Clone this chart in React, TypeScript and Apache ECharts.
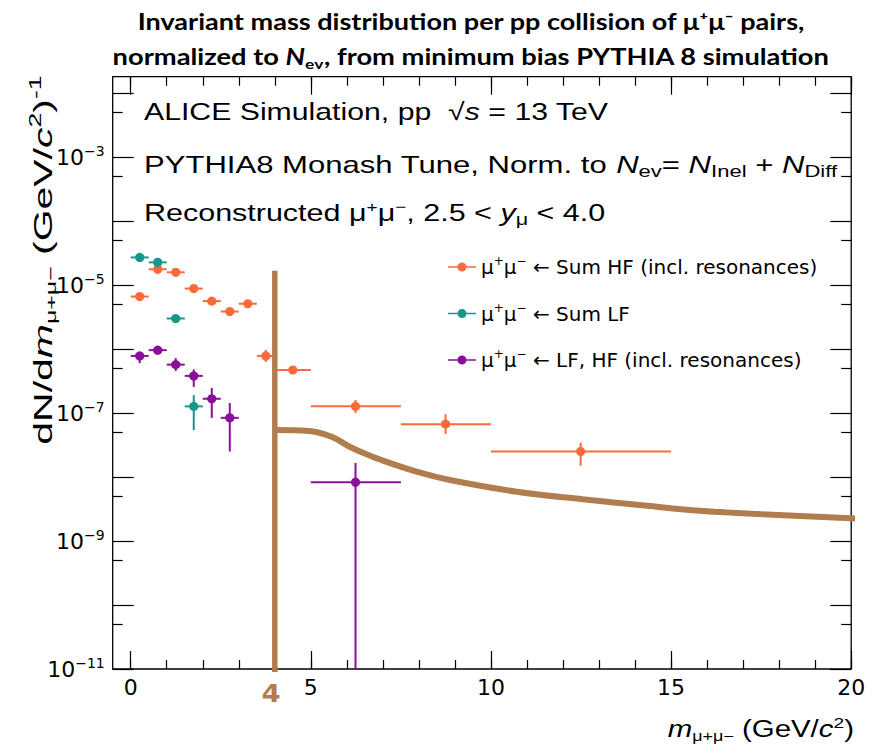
import React, { useEffect, useRef } from 'react';
import * as echarts from 'echarts';

// ---------- data ----------
const hfX = [0.25, 0.75, 1.25, 1.75, 2.25, 2.75, 3.25, 3.75, 4.5, 6.24, 8.74, 12.49];
const hfXLow = [0, 0.5, 1, 1.5, 2, 2.5, 3, 3.5, 4, 5, 7.5, 10];
const hfXHigh = [0.5, 1, 1.5, 2, 2.5, 3, 3.5, 4, 5, 7.5, 10, 15];
const hfY = [6.6e-6, 1.76e-5, 1.58e-5, 8.8e-6, 5.6e-6, 3.85e-6, 5.1e-6, 7.8e-7, 4.7e-7, 1.27e-7, 6.7e-8, 2.5e-8];
const hfYLow = [6.3e-6, 1.7e-5, 1.52e-5, 8.4e-6, 5.3e-6, 3.6e-6, 4.8e-6, 6.3e-7, 4.1e-7, 1.0e-7, 4.7e-8, 1.5e-8];
const hfYHigh = [6.9e-6, 1.82e-5, 1.64e-5, 9.2e-6, 5.9e-6, 4.1e-6, 5.4e-6, 9.7e-7, 5.4e-7, 1.6e-7, 9.6e-8, 3.45e-8];

const lfX = [0.25, 0.75, 1.25, 1.75];
const lfXLow = [0, 0.5, 1, 1.5];
const lfXHigh = [0.5, 1, 1.5, 2];
const lfY = [2.7e-5, 2.26e-5, 3.0e-6, 1.27e-7];
const lfYLow = [2.6e-5, 2.17e-5, 2.8e-6, 5.4e-8];
const lfYHigh = [2.8e-5, 2.35e-5, 3.2e-6, 1.9e-7];

const allX = [0.25, 0.75, 1.25, 1.75, 2.25, 2.75, 6.24];
const allXLow = [0, 0.5, 1, 1.5, 2, 2.5, 5];
const allXHigh = [0.5, 1, 1.5, 2, 2.5, 3, 7.5];
const allY = [7.8e-7, 9.6e-7, 5.7e-7, 3.8e-7, 1.67e-7, 8.4e-8, 8.3e-9];
const allYLow = [6.0e-7, 9.0e-7, 4.55e-7, 2.56e-7, 8.4e-8, 2.5e-8, 1e-12];
const allYHigh = [8.9e-7, 1.03e-6, 7.2e-7, 4.8e-7, 2.46e-7, 1.43e-7, 1.66e-8];

// hand-drawn annotation (threshold at 4 GeV and curve)
const cutX = [4, 4];
const cutY = [1.67e-5, 9e-12];
const curveX = [4.0, 4.69, 5.15, 5.61, 6.08, 6.55, 7.0, 7.94, 8.86, 10.72, 12.55, 14.41, 15.79, 17.46, 20.0, 20.56];
const curveY = [5.42e-8, 5.35e-8, 5.05e-8, 4.17e-8, 2.97e-8, 2.26e-8, 1.8e-8, 1.21e-8, 8.97e-9, 5.89e-9, 4.49e-9, 3.52e-9, 2.97e-9, 2.64e-9, 2.26e-9, 2.15e-9];

// axis ticks / labels
const xMajor = [0, 5, 10, 15, 20];
const xMinor = [0, 1, 2, 3, 4, 5, 6, 7, 8, 9, 10, 11, 12, 13, 14, 15, 16, 17, 18, 19, 20];
const yLabels = [1e-11, 1e-9, 1e-7, 1e-5, 1e-3];
const yDecades = [1e-11, 1e-10, 1e-9, 1e-8, 1e-7, 1e-6, 1e-5, 1e-4, 1e-3, 1e-2];
const yHalves = [5e-11, 5e-10, 5e-9, 5e-8, 5e-7, 5e-6, 5e-5, 5e-4, 5e-3];

const legendNames = ['hf', 'lf', 'all'];
const legendTexts = ['Sum HF (incl. resonances)', 'Sum LF', 'LF, HF (incl. resonances)'];

const ORANGE = '#FA6A3A';
const TEAL = '#17978C';
const PURPLE = '#8A0E9A';
const BROWN = '#B27D4E';
const FONT = 'Liberation Sans';
const WIDE = 'DejaVu Sans';

const zip = (x: number[], y: number[], xl: number[], xh: number[], yl: number[], yh: number[]) =>
  x.map((v, i) => [v, y[i], xl[i], xh[i], yl[i], yh[i]]);

const renderErr = (params: any, api: any) => {
  const cs = params.coordSys;
  const p = api.coord([api.value(0), api.value(1)]);
  const xl = api.coord([api.value(2), api.value(1)])[0];
  const xh = api.coord([api.value(3), api.value(1)])[0];
  const yl = Math.min(api.coord([api.value(0), api.value(4)])[1], cs.y + cs.height);
  const yh = api.coord([api.value(0), api.value(5)])[1];
  const color = api.visual('color');
  return {
    type: 'group',
    children: [
      { type: 'line', shape: { x1: xl, y1: p[1], x2: xh, y2: p[1] }, style: { stroke: color, lineWidth: 2 } },
      { type: 'line', shape: { x1: p[0], y1: yl, x2: p[0], y2: yh }, style: { stroke: color, lineWidth: 2 } },
      { type: 'circle', shape: { cx: p[0], cy: p[1], r: 4.6 }, style: { fill: color } },
    ],
  };
};

const legendRich = {
  t: { fontFamily: WIDE, fontSize: 20, color: '#000', lineHeight: 24 },
  s: { fontFamily: WIDE, fontSize: 12, color: '#000', lineHeight: 13, verticalAlign: 'top' },
};

const annRich = {
  t: { fontFamily: FONT, fontSize: 24, fill: '#000', lineHeight: 28 },
  i: { fontFamily: FONT, fontStyle: 'italic', fontSize: 24, fill: '#000', lineHeight: 28 },
  s: { fontFamily: FONT, fontSize: 15, fill: '#000', lineHeight: 14, verticalAlign: 'top' },
  sub: { fontFamily: FONT, fontSize: 17, fill: '#000', lineHeight: 11, verticalAlign: 'bottom' },
};

export default function App() {
  const ref = useRef<HTMLDivElement>(null);
  useEffect(() => {
    if (!ref.current) return;
    const chart = echarts.init(ref.current, undefined, { renderer: 'svg' });
    const xmin = -0.5, xmax = 20;
    const ymin = 1e-11, ymax = Math.pow(10, -1.745);
    const tickLine = { color: '#000', width: 1.2 };
    const xBase = (pos: string, ticks: number[], len: number, labels: boolean) => ({
      type: 'value', min: xmin, max: xmax, position: pos,
      axisLine: { show: false, onZero: false }, splitLine: { show: false },
      axisTick: { show: true, inside: true, length: len, customValues: ticks, lineStyle: tickLine },
      axisLabel: labels
        ? { show: true, customValues: xMajor, fontSize: 22, color: '#000', fontFamily: WIDE, margin: 7 }
        : { show: false },
    });
    const yBase = (pos: string, ticks: number[], len: number, labels: boolean) => ({
      type: 'log', logBase: 10, min: ymin, max: ymax, position: pos,
      axisLine: { show: false, onZero: false }, splitLine: { show: false },
      axisTick: { show: true, inside: true, length: len, customValues: ticks, lineStyle: tickLine },
      axisLabel: labels
        ? {
            show: true, customValues: yLabels, margin: 8,
            formatter: (v: number) => {
              const e = Math.round(Math.log10(v));
              return `{b|10}{s|${e < 0 ? '−' : ''}${Math.abs(e)}}`;
            },
            rich: {
              b: { fontFamily: WIDE, fontSize: 22, color: '#000', lineHeight: 26 },
              s: { fontFamily: WIDE, fontSize: 14, color: '#000', lineHeight: 14, verticalAlign: 'top' },
            },
          }
        : { show: false },
    });

    const option: any = {
      animation: false,
      backgroundColor: '#fff',
      grid: { left: 112.7, right: 20.8, top: 76.7, bottom: 85, show: true, borderColor: '#000', borderWidth: 1.3, backgroundColor: 'transparent' },
      xAxis: [
        xBase('bottom', xMajor, 18, true),
        xBase('bottom', xMinor, 9, false),
        xBase('top', xMajor, 18, false),
        xBase('top', xMinor, 9, false),
      ],
      yAxis: [
        yBase('left', yDecades, 21, true),
        yBase('left', yHalves, 10, false),
        yBase('right', yDecades, 21, false),
        yBase('right', yHalves, 10, false),
      ],
      legend: {
        orient: 'vertical', left: 443, top: 250, itemGap: 24.5, itemWidth: 28, itemHeight: 10,
        icon: 'path://M0,4.2H28V5.8H0Z M14,0.5A4.5,4.5 0 1 1 14,9.5A4.5,4.5 0 1 1 14,0.5Z',
        data: legendNames,
        formatter: (name: string) => `{t|μ}{s|+}{t|μ}{s|−}{t| ← ${legendTexts[legendNames.indexOf(name)]}}`,
        textStyle: { fontFamily: WIDE, fontSize: 20, color: '#000', rich: legendRich },
      },
      series: [
        {
          name: 'hf', type: 'custom', renderItem: renderErr, clip: true,
          itemStyle: { color: ORANGE }, encode: { x: 0, y: 1 },
          data: zip(hfX, hfY, hfXLow, hfXHigh, hfYLow, hfYHigh), z: 3,
        },
        {
          name: 'lf', type: 'custom', renderItem: renderErr, clip: true,
          itemStyle: { color: TEAL }, encode: { x: 0, y: 1 },
          data: zip(lfX, lfY, lfXLow, lfXHigh, lfYLow, lfYHigh), z: 3,
        },
        {
          name: 'all', type: 'custom', renderItem: renderErr, clip: true,
          itemStyle: { color: PURPLE }, encode: { x: 0, y: 1 },
          data: zip(allX, allY, allXLow, allXHigh, allYLow, allYHigh), z: 3,
        },
        {
          name: 'cut', type: 'line', clip: false, showSymbol: false, symbol: 'none',
          lineStyle: { color: BROWN, width: 5.5, cap: 'butt' }, itemStyle: { color: BROWN },
          data: cutX.map((v, i) => [v, cutY[i]]), z: 5,
        },
        {
          name: 'curve', type: 'line', clip: false, showSymbol: false, symbol: 'none', smooth: 0.4,
          lineStyle: { color: BROWN, width: 6 }, itemStyle: { color: BROWN },
          data: curveX.map((v, i) => [v, curveY[i]]), z: 5,
        },
      ],
      graphic: [
        {
          type: 'text', x: 471, y: 22, scaleX: 1.23,
          style: { text: 'Invariant mass distribution per pp collision of μ⁺μ⁻ pairs,', align: 'center', verticalAlign: 'middle', fontFamily: 'Lato', fontWeight: 'bold', fontSize: 22, fill: '#000' },
        },
        {
          type: 'text', x: 471, y: 57, scaleX: 1.24,
          style: {
            text: '{t|normalized to }{i|N}{sub|ev}{t|, from minimum bias PYTHIA 8 simulation}',
            align: 'center', verticalAlign: 'middle',
            rich: {
              t: { fontFamily: 'Lato', fontWeight: 'bold', fontSize: 22, fill: '#000', lineHeight: 26 },
              i: { fontFamily: 'Lato', fontWeight: 'bold', fontStyle: 'italic', fontSize: 22, fill: '#000', lineHeight: 26 },
              sub: { fontFamily: 'Lato', fontWeight: 'bold', fontSize: 14, fill: '#000', lineHeight: 12, verticalAlign: 'bottom' },
            },
          },
        },
        {
          type: 'text', x: 144, y: 112, scaleX: 1.26,
          style: { text: '{t|ALICE Simulation, pp  √}{i|s}{t| = 13 TeV}', align: 'left', verticalAlign: 'middle', rich: annRich },
        },
        {
          type: 'text', x: 144, y: 165, scaleX: 1.295,
          style: {
            text: '{t|PYTHIA8 Monash Tune, Norm. to }{i|N}{sub|ev}{t|= }{i|N}{sub|Inel}{t| + }{i|N}{sub|Diff}',
            align: 'left', verticalAlign: 'middle', rich: annRich,
          },
        },
        {
          type: 'text', x: 144, y: 213, scaleX: 1.27,
          style: {
            text: '{t|Reconstructed μ}{s|+}{t|μ}{s|−}{t|, 2.5 < }{i|y}{sub|μ}{t| < 4.0}',
            align: 'left', verticalAlign: 'middle', rich: annRich,
          },
        },
        {
          type: 'text', x: 271, y: 693, scaleX: 1.1,
          style: { text: '4', align: 'center', verticalAlign: 'middle', fontFamily: WIDE, fontWeight: 'bold', fontSize: 25, fill: BROWN },
        },
        {
          type: 'group', x: 43, y: 260, scaleX: 1.1,
          children: [
            {
              type: 'text', rotation: Math.PI / 2, scaleX: 1.78,
              style: {
                text: '{t|dN/d}{i|m}{sub|μ+μ−}{t| (GeV/}{i|c}{s|2}{t|)}{s|-1}',
                align: 'center', verticalAlign: 'middle',
                rich: {
                  t: { fontFamily: FONT, fontSize: 23, fill: '#000', lineHeight: 28 },
                  i: { fontFamily: FONT, fontStyle: 'italic', fontSize: 23, fill: '#000', lineHeight: 28 },
                  s: { fontFamily: FONT, fontSize: 15, fill: '#000', lineHeight: 14, verticalAlign: 'top' },
                  sub: { fontFamily: FONT, fontSize: 14, fill: '#000', lineHeight: 10, verticalAlign: 'bottom' },
                },
              },
            },
          ],
        },
        {
          type: 'text', x: 854, y: 729, scaleX: 1.28,
          style: {
            text: '{i|m}{sub|μ+μ−}{t| (GeV/}{i|c}{s|2}{t|)}',
            align: 'right', verticalAlign: 'middle',
            rich: {
              t: { fontFamily: FONT, fontSize: 23, fill: '#000', lineHeight: 28 },
              i: { fontFamily: FONT, fontStyle: 'italic', fontSize: 23, fill: '#000', lineHeight: 28 },
              s: { fontFamily: FONT, fontSize: 15, fill: '#000', lineHeight: 14, verticalAlign: 'top' },
              sub: { fontFamily: FONT, fontSize: 14, fill: '#000', lineHeight: 10, verticalAlign: 'bottom' },
            },
          },
        },
      ],
    };
    chart.setOption(option);
    return () => chart.dispose();
  }, []);
  return <div ref={ref} style={{ position: 'fixed', left: 0, top: 0, width: 872, height: 754, background: '#fff' }} />;
}
